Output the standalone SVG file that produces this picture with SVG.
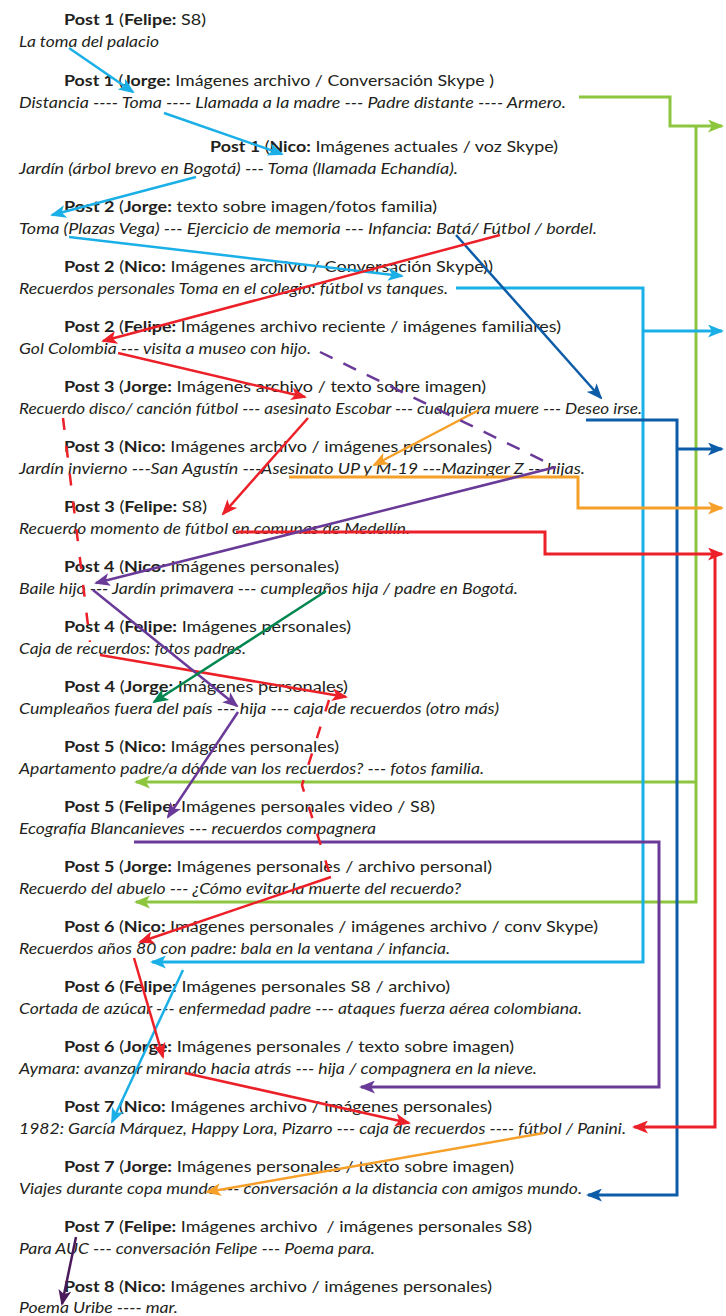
<svg xmlns="http://www.w3.org/2000/svg" width="726" height="1316" viewBox="0 0 726 1316">
<style>
text{font-family:Lato,"Open Sans","Liberation Sans",sans-serif;font-size:16px;fill:#231f20}
.b{font-weight:700}
.d{font-style:italic}
.c{fill:none;stroke-width:2.5}
.e{fill:none;stroke-width:3}
.lb{stroke:#1bafe7}.lg{stroke:#8cc63f}.db{stroke:#0d5ca8}.or{stroke:#f6a02a}.rd{stroke:#ec2028}.pu{stroke:#6a3a98}.gr{stroke:#00874f}.dp{stroke:#4a1a5a}
</style>
<defs>
<marker id="mLB" markerUnits="userSpaceOnUse" markerWidth="16" markerHeight="13" refX="14" refY="6.5" orient="auto"><path d="M0,0 L16,6.5 L0,13 L4,6.5 z" fill="#1bafe7"/></marker>
<marker id="mLG" markerUnits="userSpaceOnUse" markerWidth="16" markerHeight="13" refX="14" refY="6.5" orient="auto"><path d="M0,0 L16,6.5 L0,13 L4,6.5 z" fill="#8cc63f"/></marker>
<marker id="mDB" markerUnits="userSpaceOnUse" markerWidth="16" markerHeight="13" refX="14" refY="6.5" orient="auto"><path d="M0,0 L16,6.5 L0,13 L4,6.5 z" fill="#0d5ca8"/></marker>
<marker id="mOR" markerUnits="userSpaceOnUse" markerWidth="16" markerHeight="13" refX="14" refY="6.5" orient="auto"><path d="M0,0 L16,6.5 L0,13 L4,6.5 z" fill="#f6a02a"/></marker>
<marker id="mRD" markerUnits="userSpaceOnUse" markerWidth="16" markerHeight="13" refX="14" refY="6.5" orient="auto"><path d="M0,0 L16,6.5 L0,13 L4,6.5 z" fill="#ec2028"/></marker>
<marker id="mPU" markerUnits="userSpaceOnUse" markerWidth="16" markerHeight="13" refX="14" refY="6.5" orient="auto"><path d="M0,0 L16,6.5 L0,13 L4,6.5 z" fill="#6a3a98"/></marker>
<marker id="mGR" markerUnits="userSpaceOnUse" markerWidth="16" markerHeight="13" refX="14" refY="6.5" orient="auto"><path d="M0,0 L16,6.5 L0,13 L4,6.5 z" fill="#00874f"/></marker>
<marker id="mDP" markerUnits="userSpaceOnUse" markerWidth="16" markerHeight="13" refX="14" refY="6.5" orient="auto"><path d="M0,0 L16,6.5 L0,13 L4,6.5 z" fill="#4a1a5a"/></marker>
</defs>
<rect width="726" height="1316" fill="#fff"/>

<g id="post1-felipe">
<text x="64" y="25" textLength="142" lengthAdjust="spacingAndGlyphs"><tspan class="b">Post 1</tspan> (<tspan class="b">Felipe:</tspan> S8)</text>
<text class="d" x="19" y="47" textLength="140" lengthAdjust="spacingAndGlyphs">La toma del palacio</text>
</g>
<g id="post1-jorge">
<text x="64" y="86" textLength="430" lengthAdjust="spacingAndGlyphs"><tspan class="b">Post 1</tspan> (<tspan class="b">Jorge:</tspan> Imágenes archivo / Conversación Skype )</text>
<text class="d" x="19" y="108" textLength="547" lengthAdjust="spacingAndGlyphs">Distancia ---- Toma ---- Llamada a la madre --- Padre distante ---- Armero.</text>
</g>
<g id="post1-nico">
<text x="210" y="152" textLength="348" lengthAdjust="spacingAndGlyphs"><tspan class="b">Post 1</tspan> (<tspan class="b">Nico:</tspan> Imágenes actuales / voz Skype)</text>
<text class="d" x="19" y="174" textLength="439" lengthAdjust="spacingAndGlyphs">Jardín (árbol brevo en Bogotá) --- Toma (llamada Echandía).</text>
</g>
<g id="post2-jorge">
<text x="64" y="212" textLength="373" lengthAdjust="spacingAndGlyphs"><tspan class="b">Post 2</tspan> (<tspan class="b">Jorge:</tspan> texto sobre imagen/fotos familia)</text>
<text class="d" x="19" y="234" textLength="578" lengthAdjust="spacingAndGlyphs">Toma (Plazas Vega) --- Ejercicio de memoria --- Infancia: Batá/ Fútbol / bordel.</text>
</g>
<g id="post2-nico">
<text x="64" y="272" textLength="429" lengthAdjust="spacingAndGlyphs"><tspan class="b">Post 2</tspan> (<tspan class="b">Nico:</tspan> Imágenes archivo / Conversación Skype))</text>
<text class="d" x="19" y="294" textLength="429" lengthAdjust="spacingAndGlyphs">Recuerdos personales Toma en el colegio: fútbol vs tanques.</text>
</g>
<g id="post2-felipe">
<text x="64" y="332" textLength="497" lengthAdjust="spacingAndGlyphs"><tspan class="b">Post 2</tspan> (<tspan class="b">Felipe:</tspan> Imágenes archivo reciente / imágenes familiares)</text>
<text class="d" x="19" y="354" textLength="292" lengthAdjust="spacingAndGlyphs">Gol Colombia --- visita a museo con hijo.</text>
</g>
<g id="post3-jorge">
<text x="64" y="392" textLength="422" lengthAdjust="spacingAndGlyphs"><tspan class="b">Post 3</tspan> (<tspan class="b">Jorge:</tspan> Imágenes archivo / texto sobre imagen)</text>
<text class="d" x="19" y="414" textLength="623" lengthAdjust="spacingAndGlyphs">Recuerdo disco/ canción fútbol --- asesinato Escobar --- cualquiera muere --- Deseo irse.</text>
</g>
<g id="post3-nico">
<text x="64" y="452" textLength="428" lengthAdjust="spacingAndGlyphs"><tspan class="b">Post 3</tspan> (<tspan class="b">Nico:</tspan> Imágenes archivo / imágenes personales)</text>
<text class="d" x="19" y="474" textLength="566" lengthAdjust="spacingAndGlyphs">Jardín invierno ---San Agustín ---Asesinato UP y M-19 ---Mazinger Z ---hijas.</text>
</g>
<g id="post3-felipe">
<text x="64" y="512" textLength="143" lengthAdjust="spacingAndGlyphs"><tspan class="b">Post 3</tspan> (<tspan class="b">Felipe:</tspan> S8)</text>
<text class="d" x="19" y="534" textLength="391" lengthAdjust="spacingAndGlyphs">Recuerdo momento de fútbol en comunas de Medellín.</text>
</g>
<g id="post4-nico">
<text x="64" y="572" textLength="275" lengthAdjust="spacingAndGlyphs"><tspan class="b">Post 4</tspan> (<tspan class="b">Nico:</tspan> Imágenes personales)</text>
<text class="d" x="19" y="594" textLength="499" lengthAdjust="spacingAndGlyphs">Baile hijo --- Jardín primavera --- cumpleaños hija / padre en Bogotá.</text>
</g>
<g id="post4-felipe">
<text x="64" y="632" textLength="287" lengthAdjust="spacingAndGlyphs"><tspan class="b">Post 4</tspan> (<tspan class="b">Felipe:</tspan> Imágenes personales)</text>
<text class="d" x="19" y="654" textLength="227" lengthAdjust="spacingAndGlyphs">Caja de recuerdos: fotos padres.</text>
</g>
<g id="post4-jorge">
<text x="64" y="692" textLength="284" lengthAdjust="spacingAndGlyphs"><tspan class="b">Post 4</tspan> (<tspan class="b">Jorge:</tspan> Imágenes personales)</text>
<text class="d" x="19" y="714" textLength="480" lengthAdjust="spacingAndGlyphs">Cumpleaños fuera del país --- hija --- caja de recuerdos (otro más)</text>
</g>
<g id="post5-nico">
<text x="64" y="752" textLength="275" lengthAdjust="spacingAndGlyphs"><tspan class="b">Post 5</tspan> (<tspan class="b">Nico:</tspan> Imágenes personales)</text>
<text class="d" x="19" y="774" textLength="465" lengthAdjust="spacingAndGlyphs">Apartamento padre/a dónde van los recuerdos? --- fotos familia.</text>
</g>
<g id="post5-felipe">
<text x="64" y="812" textLength="371" lengthAdjust="spacingAndGlyphs"><tspan class="b">Post 5</tspan> (<tspan class="b">Felipe:</tspan> Imágenes personales video / S8)</text>
<text class="d" x="19" y="834" textLength="357" lengthAdjust="spacingAndGlyphs">Ecografía Blancanieves --- recuerdos compagnera</text>
</g>
<g id="post5-jorge">
<text x="64" y="872" textLength="428" lengthAdjust="spacingAndGlyphs"><tspan class="b">Post 5</tspan> (<tspan class="b">Jorge:</tspan> Imágenes personales / archivo personal)</text>
<text class="d" x="19" y="894" textLength="442" lengthAdjust="spacingAndGlyphs">Recuerdo del abuelo --- ¿Cómo evitar la muerte del recuerdo?</text>
</g>
<g id="post6-nico">
<text x="64" y="932" textLength="534" lengthAdjust="spacingAndGlyphs"><tspan class="b">Post 6</tspan> (<tspan class="b">Nico:</tspan> Imágenes personales / imágenes archivo / conv Skype)</text>
<text class="d" x="19" y="954" textLength="431" lengthAdjust="spacingAndGlyphs">Recuerdos años 80 con padre: bala en la ventana / infancia.</text>
</g>
<g id="post6-felipe">
<text x="64" y="992" textLength="386" lengthAdjust="spacingAndGlyphs"><tspan class="b">Post 6</tspan> (<tspan class="b">Felipe:</tspan> Imágenes personales S8 / archivo)</text>
<text class="d" x="19" y="1014" textLength="563" lengthAdjust="spacingAndGlyphs">Cortada de azúcar --- enfermedad padre --- ataques fuerza aérea colombiana.</text>
</g>
<g id="post6-jorge">
<text x="64" y="1052" textLength="450" lengthAdjust="spacingAndGlyphs"><tspan class="b">Post 6</tspan> (<tspan class="b">Jorge:</tspan> Imágenes personales / texto sobre imagen)</text>
<text class="d" x="19" y="1074" textLength="518" lengthAdjust="spacingAndGlyphs">Aymara: avanzar mirando hacia atrás --- hija / compagnera en la nieve.</text>
</g>
<g id="post7-nico">
<text x="64" y="1112" textLength="428" lengthAdjust="spacingAndGlyphs"><tspan class="b">Post 7</tspan> (<tspan class="b">Nico:</tspan> Imágenes archivo / imágenes personales)</text>
<text class="d" x="19" y="1134" textLength="607" lengthAdjust="spacingAndGlyphs">1982: García Márquez, Happy Lora, Pizarro --- caja de recuerdos ---- fútbol / Panini.</text>
</g>
<g id="post7-jorge">
<text x="64" y="1172" textLength="450" lengthAdjust="spacingAndGlyphs"><tspan class="b">Post 7</tspan> (<tspan class="b">Jorge:</tspan> Imágenes personales / texto sobre imagen)</text>
<text class="d" x="19" y="1194" textLength="563" lengthAdjust="spacingAndGlyphs">Viajes durante copa mundo --- conversación a la distancia con amigos mundo.</text>
</g>
<g id="post7-felipe">
<text x="64" y="1232" textLength="468" lengthAdjust="spacingAndGlyphs"><tspan class="b">Post 7</tspan> (<tspan class="b">Felipe:</tspan> Imágenes archivo&#160; / imágenes personales S8)</text>
<text class="d" x="19" y="1254" textLength="356" lengthAdjust="spacingAndGlyphs">Para AUC --- conversación Felipe --- Poema para.</text>
</g>
<g id="post8-nico">
<text x="64" y="1292" textLength="428" lengthAdjust="spacingAndGlyphs"><tspan class="b">Post 8</tspan> (<tspan class="b">Nico:</tspan> Imágenes archivo / imágenes personales)</text>
<text class="d" x="19" y="1313" textLength="159" lengthAdjust="spacingAndGlyphs">Poema Uribe ---- mar.</text>
</g>

<g id="connectors">
<path class="e lg" d="M579,97 H670 V126 H722" marker-end="url(#mLG)"/>
<path class="e lg" d="M696,126 V902 H136" marker-end="url(#mLG)"/>
<path class="e lg" d="M696,782 H136" marker-end="url(#mLG)"/>
<path class="e lb" d="M456,288 H643 V962 H152" marker-end="url(#mLB)"/>
<path class="e lb" d="M643,331 H722" marker-end="url(#mLB)"/>
<path class="e db" d="M586,420 H677 V1195 H588" marker-end="url(#mDB)"/>
<path class="e db" d="M677,449 H722" marker-end="url(#mDB)"/>
<path class="e or" d="M289,477 H578 V508 H722" marker-end="url(#mOR)"/>
<path class="e rd" d="M236,532 H545 V554 H722" marker-end="url(#mRD)"/>
<path class="e rd" d="M715,554 V1127 H634" marker-end="url(#mRD)"/>
<path class="e pu" d="M134,842 H659 V1087 H361" marker-end="url(#mPU)"/>

<path class="c lb" d="M69,48 L133,92" marker-end="url(#mLB)"/>
<path class="c lb" d="M164,113 L282,154" marker-end="url(#mLB)"/>
<path class="c lb" d="M196,177 L52,215" marker-end="url(#mLB)"/>
<path class="c lb" d="M69,237 L402,276" marker-end="url(#mLB)"/>
<path class="c lb" d="M183,970 L112,1122" marker-end="url(#mLB)"/>
<path class="c db" d="M456,235 L601,398" marker-end="url(#mDB)"/>
<path class="c or" d="M479,410 L374,465" marker-end="url(#mOR)"/>
<path class="c or" d="M544,1133 L207,1192" marker-end="url(#mOR)"/>
<path class="c rd" d="M500,235 L103,341" marker-end="url(#mRD)"/>
<path class="c rd" d="M118,353 L305,397" marker-end="url(#mRD)"/>
<path class="c rd" d="M308,418 L223,514" marker-end="url(#mRD)"/>
<path class="c rd" d="M100,655 L346,697" marker-end="url(#mRD)"/>
<path class="c rd" d="M331,877 L140,942" marker-end="url(#mRD)"/>
<path class="c rd" d="M134,958 L163,1057" marker-end="url(#mRD)"/>
<path class="c rd" d="M185,1073 L409,1123" marker-end="url(#mRD)"/>
<path class="c pu" d="M556,467 L96,583" marker-end="url(#mPU)"/>
<path class="c pu" d="M93,590 L237,706" marker-end="url(#mPU)"/>
<path class="c pu" d="M238,712 L168,817" marker-end="url(#mPU)"/>
<path class="c gr" d="M326,591 L154,702" marker-end="url(#mGR)"/>
<path class="c dp" d="M76,1237 L62,1304" marker-end="url(#mDP)"/>

<path class="c pu" d="M320,352 L552,465" stroke-dasharray="14 12"/>
<path class="c rd" d="M63,418 L90,642" stroke-dasharray="12 16"/>
<path class="c rd" d="M329,700 L302,785 L330,875" stroke-dasharray="12 16"/>
</g>
</svg>
